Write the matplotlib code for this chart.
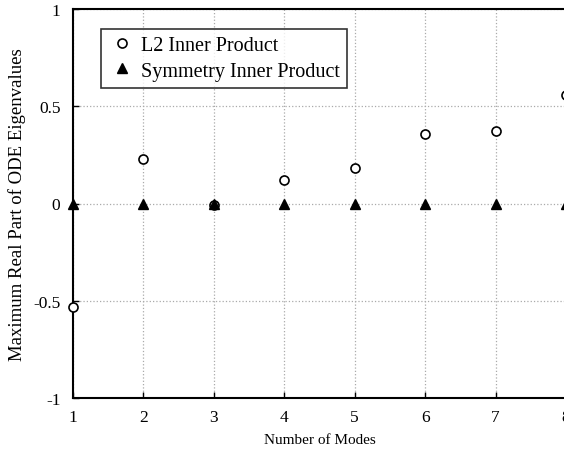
import numpy as np
import matplotlib.pyplot as plt

plt.rcParams['font.family'] = ['Liberation Serif', 'DejaVu Serif']

modes = [1, 2, 3, 4, 5, 6, 7, 8]
l2_vals = [-0.533, 0.23, -0.008, 0.12, 0.18, 0.355, 0.375, 0.56]
sym_vals = [0, 0, 0, 0, 0, 0, 0, 0]
yticks = [-1, -0.5, 0, 0.5, 1]
ytick_labels = ['-1', '-0.5', '0', '0.5', '1']

fig = plt.figure(figsize=(5.64, 4.6), dpi=100)
ax = fig.add_axes([73/564, 1 - 399/460, 493/564, 389/460])

ax.plot(modes, l2_vals, 'o', mfc='white', mec='black', mew=1.2, ms=6.5,
        label='L2 Inner Product', clip_on=False, zorder=3)
ax.plot(modes, sym_vals, '^', color='black', ms=7.5,
        label='Symmetry Inner Product', clip_on=False, zorder=3)

ax.set_xlim(1, 8)
ax.set_ylim(-1, 1)
ax.set_xticks(modes)
ax.set_yticks(yticks)
ax.set_yticklabels(ytick_labels)
ax.tick_params(direction='in', length=4, labelsize=12.5, width=1)
ax.tick_params(axis='x', pad=8)
ax.tick_params(axis='y', pad=9)
ax.grid(True, linestyle=':', color='#aaaaaa', linewidth=0.9)
for s in ax.spines.values():
    s.set_linewidth(1.5)

ax.set_xlabel('Number of Modes', fontsize=11, labelpad=6)
ax.set_ylabel('Maximum Real Part of ODE Eigenvalues', fontsize=13.5, labelpad=5)

leg = ax.legend(loc='upper left', bbox_to_anchor=(0.057, 0.948), fontsize=14.5,
                frameon=True, fancybox=False, edgecolor='black',
                borderpad=0.35, handletextpad=0.25, labelspacing=0.3,
                handlelength=1.4, borderaxespad=0)
leg.get_frame().set_linewidth(1.2)

fig.savefig('out.png', dpi=100)
